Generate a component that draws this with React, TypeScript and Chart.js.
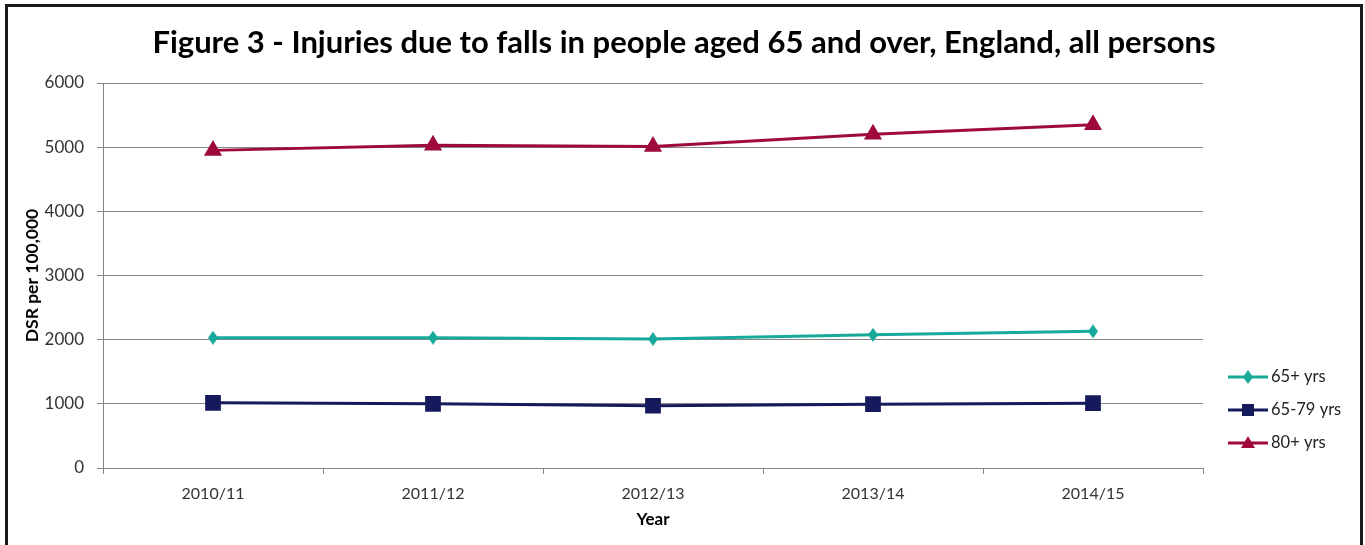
import React, { useEffect, useRef } from "react";
import { Chart, registerables } from "chart.js";

Chart.register(...registerables);

const categories = ["2010/11", "2011/12", "2012/13", "2013/14", "2014/15"];
const values65plus = [2030, 2030, 2010, 2075, 2130];
const values65to79 = [1015, 1000, 970, 995, 1010];
const values80plus = [4950, 5030, 5010, 5200, 5350];
const seriesNames = ["65+ yrs", "65-79 yrs", "80+ yrs"];
const seriesColors = ["#17A99A", "#141A5C", "#9E0B3B"];
const titleText = "Figure 3 - Injuries due to falls in people aged 65 and over, England, all persons";
const yAxisTitle = "DSR per 100,000";
const xAxisTitle = "Year";
const yMin = 0;
const yMax = 6000;
const yStep = 1000;

const FONT = "Lato, 'Open Sans', sans-serif";

function makeDiamond(color: string): HTMLCanvasElement {
  const c = document.createElement("canvas");
  c.width = 10;
  c.height = 14;
  const ctx = c.getContext("2d")!;
  ctx.fillStyle = color;
  ctx.beginPath();
  ctx.moveTo(5, 0);
  ctx.lineTo(10, 7);
  ctx.lineTo(5, 14);
  ctx.lineTo(0, 7);
  ctx.closePath();
  ctx.fill();
  return c;
}

const titlePlugin = {
  id: "centerTitle",
  afterDraw(chart: any) {
    const ctx = chart.ctx;
    ctx.save();
    ctx.fillStyle = "#000";
    ctx.font = `bold 31px ${FONT}`;
    ctx.textAlign = "center";
    ctx.textBaseline = "middle";
    ctx.fillText(titleText, 684, 43);
    ctx.restore();
  },
};

const legendPlugin = {
  id: "customLegend",
  afterDraw(chart: any) {
    const ctx = chart.ctx;
    const x0 = 1228;
    const ys = [377, 410, 443];
    ctx.save();
    chart.data.datasets.forEach((ds: any, i: number) => {
      const y = ys[i];
      ctx.strokeStyle = ds.borderColor;
      ctx.lineWidth = 3;
      ctx.beginPath();
      ctx.moveTo(x0, y);
      ctx.lineTo(x0 + 40, y);
      ctx.stroke();
      const cx = x0 + 20;
      ctx.fillStyle = ds.borderColor;
      if (i === 0) {
        ctx.beginPath();
        ctx.moveTo(cx, y - 7);
        ctx.lineTo(cx + 5, y);
        ctx.lineTo(cx, y + 7);
        ctx.lineTo(cx - 5, y);
        ctx.closePath();
        ctx.fill();
      } else if (i === 1) {
        ctx.fillRect(cx - 6, y - 6, 12, 12);
      } else {
        ctx.beginPath();
        ctx.moveTo(cx, y - 7);
        ctx.lineTo(cx + 7, y + 5);
        ctx.lineTo(cx - 7, y + 5);
        ctx.closePath();
        ctx.fill();
      }
      ctx.fillStyle = "#222";
      ctx.font = `16.5px ${FONT}`;
      ctx.textAlign = "left";
      ctx.textBaseline = "middle";
      ctx.fillText(ds.label, x0 + 43, y);
    });
    ctx.restore();
  },
};

export default function App() {
  const ref = useRef<HTMLCanvasElement | null>(null);
  useEffect(() => {
    if (!ref.current) return;
    const yTicks: number[] = [];
    for (let v = yMin; v <= yMax; v += yStep) yTicks.push(v);
    const chart = new Chart(ref.current, {
      type: "line",
      data: {
        labels: categories,
        datasets: [
          {
            label: seriesNames[0],
            data: values65plus,
            borderColor: seriesColors[0],
            backgroundColor: seriesColors[0],
            borderWidth: 3,
            pointStyle: makeDiamond(seriesColors[0]) as any,
            pointRadius: 7,
          },
          {
            label: seriesNames[1],
            data: values65to79,
            borderColor: seriesColors[1],
            backgroundColor: seriesColors[1],
            borderWidth: 3,
            pointStyle: "rect",
            pointRadius: 9,
          },
          {
            label: seriesNames[2],
            data: values80plus,
            borderColor: seriesColors[2],
            backgroundColor: seriesColors[2],
            borderWidth: 3,
            pointStyle: "triangle",
            pointRadius: 7.5,
          },
        ],
      },
      options: {
        animation: false,
        responsive: true,
        maintainAspectRatio: false,
        layout: { padding: { left: 12, right: 162, top: 83, bottom: 0 } },
        plugins: {
          legend: { display: false },
          tooltip: { enabled: false },
          title: { display: false },
        },
        scales: {
          x: {
            offset: true,
            grid: {
              display: true,
              offset: true,
              drawOnChartArea: false,
              drawTicks: true,
              tickLength: 6,
              color: "#868686",
            },
            border: { display: true, color: "#868686", width: 1 },
            ticks: { color: "#333", font: { family: FONT, size: 16 }, padding: 10, maxRotation: 0 },
            title: {
              display: true,
              text: xAxisTitle,
              color: "#000",
              font: { family: FONT, size: 17, weight: "bold" },
              padding: { top: 0, bottom: 15 },
            },
            afterFit(scale: any) {
              scale.height = 77;
            },
          },
          y: {
            min: yMin,
            max: yMax,
            afterBuildTicks(scale: any) {
              scale.ticks = yTicks.map((v) => ({ value: v }));
            },
            grid: {
              display: true,
              color: "#868686",
              drawTicks: true,
              tickLength: 6,
            },
            border: { display: true, color: "#868686", width: 1 },
            ticks: {
              color: "#333",
              font: { family: FONT, size: 17 },
              padding: 13,
              callback: (v: any) => String(v),
            },
            title: {
              display: true,
              text: yAxisTitle,
              color: "#000",
              font: { family: FONT, size: 17.5, weight: "bold" },
              padding: { top: 10, bottom: 0 },
            },
            afterFit(scale: any) {
              scale.width = 91;
            },
          },
        },
      },
      plugins: [legendPlugin, titlePlugin],
    });
    return () => chart.destroy();
  }, []);
  return (
    <div style={{ position: "fixed", left: 0, top: 0, width: 1365, height: 545, background: "#fff" }}>
      <canvas ref={ref} />
      <div
        style={{
          position: "absolute",
          left: 5,
          top: 4,
          width: 1358,
          height: 600,
          boxSizing: "border-box",
          border: "3px solid #1a1a1a",
          pointerEvents: "none",
        }}
      />
    </div>
  );
}
